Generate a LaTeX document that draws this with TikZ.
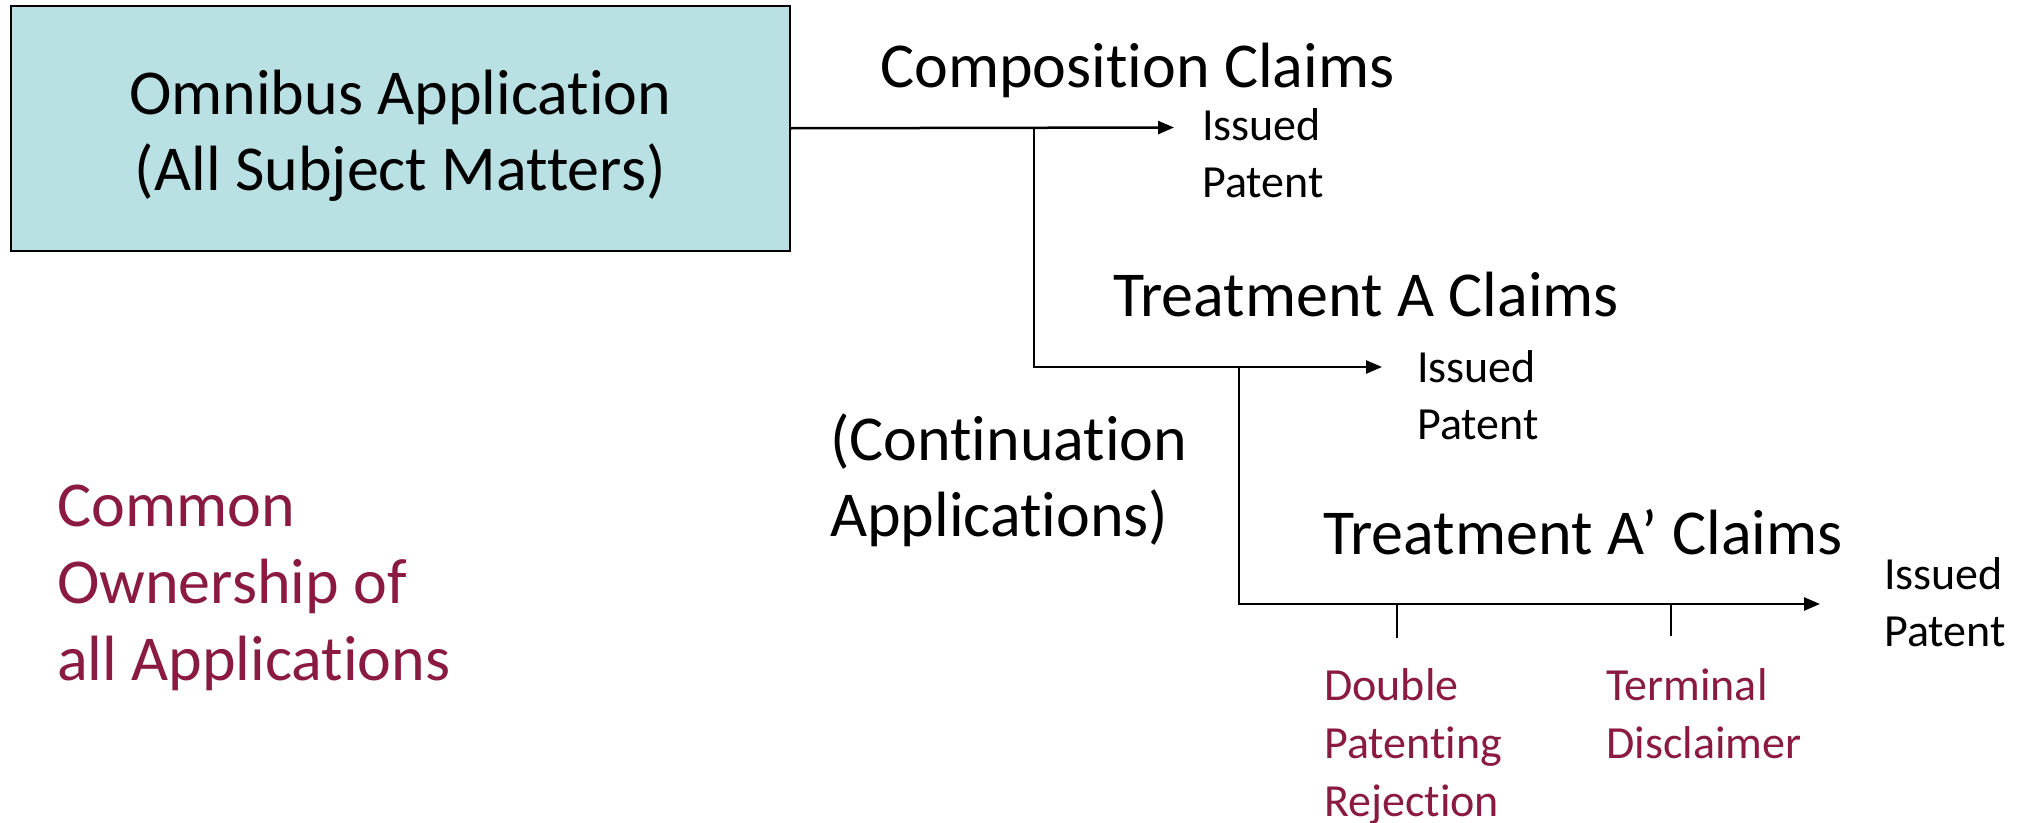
\documentclass[tikz,border=0pt]{standalone}
\usepackage{fontspec}
\setmainfont{Carlito}[Ligatures=NoCommon]
\usetikzlibrary{arrows.meta}
\definecolor{boxfill}{HTML}{B9E0E3}
\definecolor{wine}{HTML}{8B1A42}
\begin{document}
\begin{tikzpicture}[x=1pt,y=-1pt,
  big/.style={font=\fontsize{64}{76}\selectfont, inner sep=0pt, anchor=base west, align=left},
  small/.style={font=\fontsize{46}{57}\selectfont, inner sep=0pt, anchor=base west, align=left},
  note/.style={text=wine},
  flow/.style={line width=2.5pt, -{Triangle[length=16pt,width=13pt]}},
  tick/.style={line width=1.5pt}]
\useasboundingbox[fill=white] (0,0) rectangle (2034,822);

% root application box and its caption
\node[draw=black, line width=1.5pt, fill=boxfill, minimum width=779pt,
      minimum height=245pt, anchor=north west, inner sep=0pt]
      (omni) at (10,5) {};
\node[font=\fontsize{64}{76}\selectfont, align=center, inner sep=0pt]
      (omnitext) at ([yshift=-8pt]omni.center) {Omnibus Application\\(All Subject Matters)};

% junctions and arrow ends
\coordinate (e1) at (1174,127.5);
\coordinate (j1) at (1034,127.5);
\coordinate (e2) at (1382,367);
\coordinate (j2) at (1239,367);
\coordinate (e3) at (1820,604);
\coordinate (t1a) at (1397,604);
\coordinate (t1b) at (1397,638);
\coordinate (t2a) at (1671,604);
\coordinate (t2b) at (1671,636);

% branch labels (anchored at the baseline of their last line)
\node[big] (comp) at (880,87) {Composition Claims};
\node[small] (iss1) at (1202,197) {Issued\\Patent};
\node[big] (treatA) at (1113,316) {Treatment A Claims};
\node[small] (iss2) at (1417,439) {Issued\\Patent};
\node[big] (treatAp) at (1323,554) {Treatment A’ Claims};
\node[small] (iss3) at (1884,646) {Issued\\Patent};
\node[big] (cont) at (830,536) {(Continuation\\Applications)};
\node[big, note, font=\fontsize{64}{77}\selectfont] (owner) at (57,680) {Common\\Ownership of\\all Applications};
\node[small, note, font=\fontsize{46}{58}\selectfont] (dpr) at (1324,816) {Double\\Patenting\\Rejection};
\node[small, note, font=\fontsize{46}{58}\selectfont] (tdis) at (1606,758) {Terminal\\Disclaimer};

% connectors
\draw[flow] (omni.east) -- (e1);
\draw[flow] (j1) |- (e2);
\draw[flow] (j2) |- (e3);
\draw[tick] (t1a) -- (t1b);
\draw[tick] (t2a) -- (t2b);
\end{tikzpicture}
\end{document}
